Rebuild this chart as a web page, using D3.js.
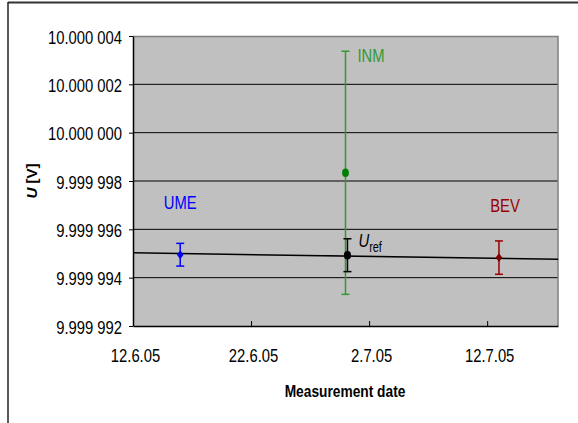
<!DOCTYPE html>
<html>
<head>
<meta charset="utf-8">
<script src="https://cdn.jsdelivr.net/npm/d3@7"></script>
<style>
  body { margin: 0; background: #fff; }
  text { font-family: "Liberation Sans", Arial, sans-serif; }
</style>
</head>
<body>
<svg id="chart" width="578" height="423"></svg>
<script>
// data
const labs = ["UME", "INM", "BEV"];
const dates = ["2005-06-16", "2005-06-30", "2005-07-13"];
const values = [9.99999495, 9.99999834, 9.99999483];
const uncert = [0.00000047, 0.00000503, 0.00000069];
const colors = ["#0000ff", "#339933", "#990000"];
const markerColors = ["#0000ff", "#008000", "#800000"];

// reference value and its drift line
const refDate = "2005-06-30 04:00";
const refValue = 9.99999493;
const refUncert = 0.00000068;
const refLineDates = ["2005-06-12", "2005-07-18"];
const refLineValues = [9.99999503, 9.99999476];

const yTicks = [9.999992, 9.999994, 9.999996, 9.999998, 10.000000, 10.000002, 10.000004];
const xTickDates = ["2005-06-12", "2005-06-22", "2005-07-02", "2005-07-12"];
const xDomain = ["2005-06-12", "2005-07-18"];

const parse = d3.timeParse("%Y-%m-%d");
const parseT = d3.timeParse("%Y-%m-%d %H:%M");

const svg = d3.select("#chart");
const margin = { top: 36, left: 133, right: 20, bottom: 97 };
const width = 578 - margin.left - margin.right;
const height = 423 - margin.top - margin.bottom;
const sx = 0.78; // the picture's text is squashed sideways

// outer frame
svg.append("line").attr("x1", 8).attr("x2", 578).attr("y1", 2.5).attr("y2", 2.5)
   .attr("stroke", "#333").attr("stroke-width", 2);
svg.append("line").attr("x1", 8).attr("x2", 8).attr("y1", 2).attr("y2", 423)
   .attr("stroke", "#222").attr("stroke-width", 1.5);

const g = svg.append("g").attr("transform", `translate(${margin.left},${margin.top})`);

const x = d3.scaleTime().domain(xDomain.map(parse)).range([0, width]);
const y = d3.scaleLinear().domain([9.999992, 10.000004]).range([height, 0]);

g.append("rect").attr("width", width).attr("height", height).attr("fill", "#c0c0c0");

// gridlines
g.selectAll("line.grid").data(yTicks.slice(1, -1)).join("line")
  .attr("class", "grid")
  .attr("x1", 0).attr("x2", width)
  .attr("y1", d => y(d)).attr("y2", d => y(d))
  .attr("stroke", "#000").attr("stroke-width", 1);

// plot border top/right
g.append("path").attr("d", `M0,0.5H${width}V${height}`)
  .attr("fill", "none").attr("stroke", "#808080").attr("stroke-width", 1.5);

const fmtY = d => {
  const s = d3.format(".6f")(d);
  return s.slice(0, -3) + " " + s.slice(-3);
};
const fmtX = d3.timeFormat("%-d.%-m.%y");

// y axis
const yAxis = g.append("g")
  .call(d3.axisLeft(y).tickValues(yTicks).tickFormat(fmtY).tickSize(4).tickSizeOuter(0));
yAxis.select(".domain").attr("stroke-width", 1.5);
yAxis.selectAll(".tick text")
  .attr("x", null).attr("dy", null)
  .attr("transform", `translate(-11,7) scale(${sx},1)`)
  .style("font-size", "19px").attr("fill", "#000");

// x axis
const xAxis = g.append("g").attr("transform", `translate(0,${height})`)
  .call(d3.axisBottom(x).tickValues(xTickDates.map(parse)).tickFormat(fmtX)
        .tickSizeInner(-5).tickSizeOuter(0));
xAxis.select(".domain").attr("stroke-width", 1.5);
xAxis.selectAll(".tick text")
  .attr("y", null).attr("dy", null)
  .attr("transform", `translate(2,36) scale(${sx},1)`)
  .style("font-size", "19px").attr("fill", "#000");

// axis titles
svg.append("text")
  .attr("transform", `translate(345,397) scale(0.86,1)`)
  .attr("text-anchor", "middle")
  .style("font-size", "16px").style("font-weight", "bold")
  .text("Measurement date");

const yt = svg.append("text")
  .attr("transform", `translate(37,181) rotate(-90)`)
  .attr("text-anchor", "middle")
  .style("font-size", "15px").style("font-weight", "bold");
yt.append("tspan").style("font-style", "italic").text("U");
yt.append("tspan").text(" [V]");

// reference drift line
const line = d3.line().x(d => x(d[0])).y(d => y(d[1]));
g.append("path")
  .datum(refLineDates.map((d, i) => [parse(d), refLineValues[i]]))
  .attr("d", line).attr("fill", "none").attr("stroke", "#000").attr("stroke-width", 1.5);

const pts = labs.map((l, i) => ({ lab: l, date: parse(dates[i]), v: values[i], u: uncert[i], c: colors[i], mc: markerColors[i] }));

function errorBar(sel, d, color) {
  const cx = x(d.date);
  sel.append("line").attr("x1", cx).attr("x2", cx)
    .attr("y1", y(d.v + d.u)).attr("y2", y(d.v - d.u))
    .attr("stroke", color).attr("stroke-width", 1.5);
  [d.v + d.u, d.v - d.u].forEach(v => {
    sel.append("line").attr("x1", cx - 4).attr("x2", cx + 4)
      .attr("y1", y(v)).attr("y2", y(v))
      .attr("stroke", color).attr("stroke-width", 1.5);
  });
}

// INM first, so the reference bar sits on top
const order = [1, 0, 2];
order.forEach(i => {
  const d = pts[i];
  const bg = g.append("g");
  errorBar(bg, d, d.c);
});

// reference point
const ref = { date: parseT(refDate), v: refValue, u: refUncert };
errorBar(g.append("g"), ref, "#000");
g.append("ellipse").attr("cx", x(ref.date)).attr("cy", y(ref.v))
  .attr("rx", 3.6).attr("ry", 4.3).attr("fill", "#000");

// markers
pts.forEach(d => {
  if (d.lab === "INM") {
    g.append("ellipse").attr("cx", x(d.date)).attr("cy", y(d.v))
      .attr("rx", 3.4).attr("ry", 4.3).attr("fill", d.mc);
  } else {
    g.append("path")
      .attr("d", d3.symbol(d3.symbolSquare, 30)())
      .attr("transform", `translate(${x(d.date)},${y(d.v)}) scale(0.85,1.15) rotate(45)`)
      .attr("fill", d.mc);
  }
});

// labels
const labelPos = { UME: [0, -46, "middle"], INM: [12, -111, "start"], BEV: [6, -46, "middle"] };
pts.forEach(d => {
  const p = labelPos[d.lab];
  g.append("text")
    .attr("transform", `translate(${x(d.date) + p[0]},${y(d.v) + p[1]}) scale(${sx},1)`)
    .attr("text-anchor", p[2])
    .style("font-size", "19px").attr("fill", d.c)
    .text(d.lab);
});

const ul = g.append("text")
  .attr("transform", `translate(${x(ref.date) + 11},${y(ref.v) - 8}) scale(${sx},1)`)
  .style("font-size", "19px").attr("fill", "#000");
ul.append("tspan").style("font-style", "italic").text("U");
ul.append("tspan").attr("dy", 5).style("font-size", "14px").text("ref");
</script>
</body>
</html>
